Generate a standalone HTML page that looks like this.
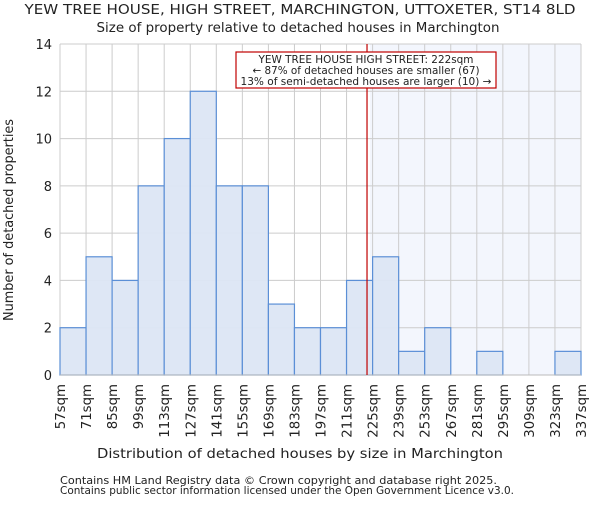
<!DOCTYPE html>
<html><head><meta charset="utf-8"><style>
body{margin:0;background:#fff}
text{font-family:"DejaVu Sans","Liberation Sans",sans-serif;fill:#222}
</style></head><body>
<svg id="c" width="600" height="500" xmlns="http://www.w3.org/2000/svg"></svg>
<script>
const binStarts=[57,71,85,99,113,127,141,155,169,183,197,211,225,239,253,267,281,295,309,323];
const counts=[2,5,4,8,10,12,8,8,3,2,2,4,5,1,2,0,1,0,0,1];
const tickLabels=["57sqm","71sqm","85sqm","99sqm","113sqm","127sqm","141sqm","155sqm","169sqm","183sqm","197sqm","211sqm","225sqm","239sqm","253sqm","267sqm","281sqm","295sqm","309sqm","323sqm","337sqm"];
const yTicks=[0,2,4,6,8,10,12,14];
const propertySize=222;
const NS="http://www.w3.org/2000/svg";
const svg=document.getElementById('c');
const L=60,R=581,T=44,B=375,xmin=57,xmax=337,ymax=14;
const X=v=>L+(v-xmin)/(xmax-xmin)*(R-L);
const Y=v=>B-v/ymax*(B-T);
function mk(tag,a,txt){const e=document.createElementNS(NS,tag);for(const k in a)e.setAttribute(k,a[k]);if(txt!==undefined)e.textContent=txt;svg.appendChild(e);return e;}
let e;
e=mk('rect',{x:X(propertySize)+3,y:T,width:R-X(propertySize)-3,height:B-T,fill:'#f3f6fd'});


yTicks.forEach(t=>{e=mk('line',{x1:L,x2:R,y1:Y(t),y2:Y(t),stroke:'#cccccc'});


e=mk('text',{x:L-8,y:Y(t)+5,'text-anchor':'end','font-size':13},t);

});
tickLabels.forEach((s,i)=>{const v=xmin+i*14;e=mk('line',{x1:X(v),x2:X(v),y1:T,y2:B,stroke:'#cccccc'});


e=mk('text',{transform:`translate(${X(v)+5},${B+9}) rotate(-90)`,'text-anchor':'end','font-size':13.3},s);

});
binStarts.forEach((s,i)=>{if(!counts[i])return;e=mk('rect',{x:X(s),y:Y(counts[i]),width:X(s+14)-X(s),height:B-Y(counts[i]),fill:'#dce6f4','fill-opacity':0.95,stroke:'#5b8fd6','stroke-width':1.2});

});
e=mk('line',{x1:L,x2:R,y1:B,y2:B,stroke:'#bbbbbb'});


e=mk('line',{x1:X(propertySize),x2:X(propertySize),y1:T,y2:B,stroke:'#c00000','stroke-width':1.2});


e=mk('rect',{x:236,y:52,width:260,height:36,fill:'#fff',stroke:'#c00000','stroke-width':1.2});


[["YEW TREE HOUSE HIGH STREET: 222sqm",63,215],["← 87% of detached houses are smaller (67)",74,227],["13% of semi-detached houses are larger (10) →",85,251]].forEach(([s,y,w])=>{e=mk('text',{x:366,y:y,'text-anchor':'middle','font-size':10.5,textLength:w,lengthAdjust:'spacingAndGlyphs'},s);

});
e=mk('text',{x:300,y:14,'text-anchor':'middle','font-size':13,textLength:551,lengthAdjust:'spacingAndGlyphs'},"YEW TREE HOUSE, HIGH STREET, MARCHINGTON, UTTOXETER, ST14 8LD");


e=mk('text',{x:298,y:32,'text-anchor':'middle','font-size':13,textLength:403,lengthAdjust:'spacingAndGlyphs'},"Size of property relative to detached houses in Marchington");


e=mk('text',{x:300,y:458,'text-anchor':'middle','font-size':13.3,textLength:406,lengthAdjust:'spacingAndGlyphs'},"Distribution of detached houses by size in Marchington");


e=mk('text',{transform:'translate(13,220) rotate(-90)','text-anchor':'middle','font-size':13.3,textLength:202,lengthAdjust:'spacingAndGlyphs'},"Number of detached properties");


e=mk('text',{x:60,y:484,'font-size':10.8,fill:'#444',textLength:437,lengthAdjust:'spacingAndGlyphs'},"Contains HM Land Registry data © Crown copyright and database right 2025.");


e=mk('text',{x:60,y:494,'font-size':10.8,fill:'#444',textLength:454,lengthAdjust:'spacingAndGlyphs'},"Contains public sector information licensed under the Open Government Licence v3.0.");


</script>
</body></html>
